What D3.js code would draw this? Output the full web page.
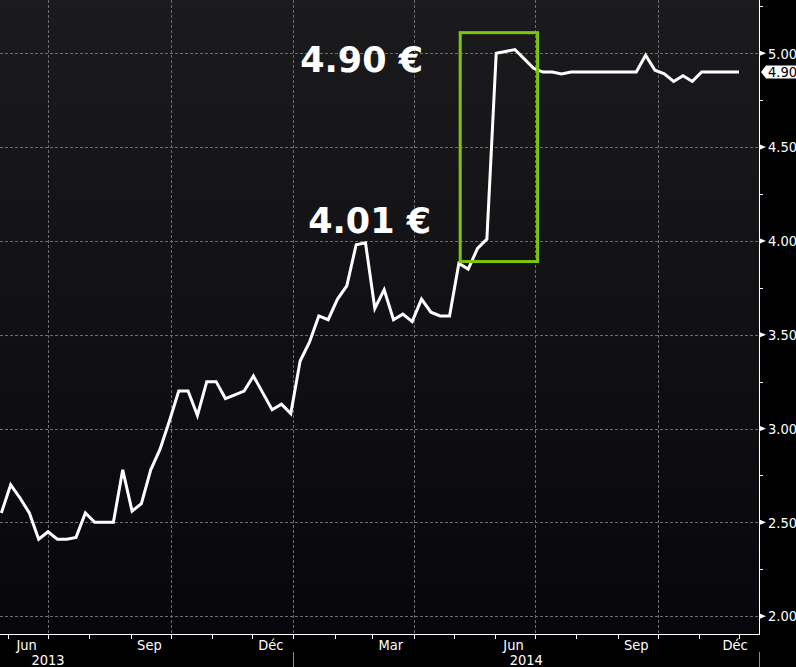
<!DOCTYPE html>
<html>
<head>
<meta charset="utf-8">
<script src="https://cdn.jsdelivr.net/npm/d3@7"></script>
<style>
  html, body { margin: 0; padding: 0; background: #000; }
  svg { display: block; }
</style>
</head>
<body>
<div id="chart"></div>
<script>
// weekly closes, May 2013 - Dec 2014
const dates = [
  "2013-05-27", "2013-06-03", "2013-06-10", "2013-06-17", "2013-06-24",
  "2013-07-01", "2013-07-08", "2013-07-15", "2013-07-22", "2013-07-29",
  "2013-08-05", "2013-08-12", "2013-08-19", "2013-08-26", "2013-09-02",
  "2013-09-09", "2013-09-16", "2013-09-23", "2013-09-30", "2013-10-07",
  "2013-10-14", "2013-10-21", "2013-10-28", "2013-11-04", "2013-11-11",
  "2013-11-18", "2013-11-25", "2013-12-02", "2013-12-09", "2013-12-16",
  "2013-12-23", "2013-12-30", "2014-01-06", "2014-01-13", "2014-01-20",
  "2014-01-27", "2014-02-03", "2014-02-10", "2014-02-17", "2014-02-24",
  "2014-03-03", "2014-03-10", "2014-03-17", "2014-03-24", "2014-03-31",
  "2014-04-07", "2014-04-14", "2014-04-21", "2014-04-28", "2014-05-05",
  "2014-05-12", "2014-05-19", "2014-05-26", "2014-06-02", "2014-06-09",
  "2014-06-16", "2014-06-23", "2014-06-30", "2014-07-07", "2014-07-14",
  "2014-07-21", "2014-07-28", "2014-08-04", "2014-08-11", "2014-08-18",
  "2014-08-25", "2014-09-01", "2014-09-08", "2014-09-15", "2014-09-22",
  "2014-09-29", "2014-10-06", "2014-10-13", "2014-10-20", "2014-10-27",
  "2014-11-03", "2014-11-10", "2014-11-17", "2014-11-24", "2014-12-01"
];
const prices = [
  2.55, 2.70, 2.63, 2.55, 2.41,
  2.45, 2.41, 2.41, 2.42, 2.55,
  2.50, 2.50, 2.50, 2.78, 2.56,
  2.60, 2.78, 2.89, 3.04, 3.20,
  3.20, 3.07, 3.25, 3.25, 3.16,
  3.18, 3.20, 3.28, 3.19, 3.10,
  3.13, 3.08, 3.36, 3.46, 3.60,
  3.58, 3.69, 3.76, 3.98, 3.99,
  3.64, 3.74, 3.58, 3.61, 3.57,
  3.69, 3.62, 3.60, 3.60, 3.88,
  3.85, 3.96, 4.01, 5.00, 5.01,
  5.02, 4.97, 4.92, 4.90, 4.90,
  4.89, 4.90, 4.90, 4.90, 4.90,
  4.90, 4.90, 4.90, 4.90, 4.99,
  4.91, 4.89, 4.85, 4.88, 4.85,
  4.90, 4.90, 4.90, 4.90, 4.90
];

const yTicks = [2.00, 2.50, 3.00, 3.50, 4.00, 4.50, 5.00];
const yMinor = [2.25, 2.75, 3.25, 3.75, 4.25, 4.75, 5.25];
const monthLabelDates = ["2013-06-15", "2013-09-15", "2013-12-15", "2014-03-15", "2014-06-15", "2014-09-15", "2014-12-15"];
const monthLabels = ["Jun", "Sep", "Déc", "Mar", "Jun", "Sep", "Déc"];
const years = [2013, 2014];
const callouts = [
  { text: "4.90 €", date: "2014-01-06", value: 4.90 },
  { text: "4.01 €", date: "2014-01-12", value: 4.04 }
];
const highlight = { from: "2014-05-06", to: "2014-07-03", low: 3.89, high: 5.11 };
const lastValue = 4.90;

const W = 796, H = 667;
const plotW = 759, plotH = 634;
const parse = d3.utcParse("%Y-%m-%d");
const series = dates.map((d, i) => ({ date: parse(d), value: prices[i] }));

const x = d3.scaleUtc()
  .domain([parse("2013-05-26"), parse("2014-12-16")])
  .range([0, plotW]);
const y = d3.scaleLinear()
  .domain([1.905, 5.284])
  .range([plotH, 0]);

const svg = d3.select("#chart").append("svg")
  .attr("width", W)
  .attr("height", H);

svg.append("rect").attr("width", W).attr("height", H).attr("fill", "#000");

const grad = svg.append("defs").append("linearGradient")
  .attr("id", "bg").attr("x1", 0).attr("y1", 0).attr("x2", 0).attr("y2", 1);
grad.append("stop").attr("offset", "0%").attr("stop-color", "#1b1b1e");
grad.append("stop").attr("offset", "100%").attr("stop-color", "#07070b");

svg.append("rect")
  .attr("width", plotW).attr("height", plotH)
  .attr("fill", "url(#bg)");

// dotted grid
const grid = svg.append("g")
  .attr("stroke", "#6c6c6c")
  .attr("stroke-width", 1)
  .attr("stroke-dasharray", "3,2");
grid.selectAll(".gy").data(yTicks).join("line")
  .attr("x1", 0).attr("x2", plotW)
  .attr("y1", d => Math.round(y(d)) + 0.5).attr("y2", d => Math.round(y(d)) + 0.5);
grid.selectAll(".gx").data(x.ticks(d3.utcMonth.every(3))).join("line")
  .attr("x1", d => Math.round(x(d)) + 0.5).attr("x2", d => Math.round(x(d)) + 0.5)
  .attr("y1", 0).attr("y2", plotH);

// price line
const line = d3.line().x(d => x(d.date)).y(d => y(d.value));
svg.append("path")
  .datum(series)
  .attr("fill", "none")
  .attr("stroke", "#fff")
  .attr("stroke-width", 3)
  .attr("d", line);

// highlight box
svg.append("rect")
  .attr("x", x(parse(highlight.from)))
  .attr("y", y(highlight.high))
  .attr("width", x(parse(highlight.to)) - x(parse(highlight.from)))
  .attr("height", y(highlight.low) - y(highlight.high))
  .attr("fill", "none")
  .attr("stroke", "#7cc70a")
  .attr("stroke-width", 3);

// callouts
svg.selectAll(".callout").data(callouts).join("text")
  .attr("x", d => x(parse(d.date)))
  .attr("y", d => y(d.value))
  .attr("fill", "#fff")
  .attr("font-family", "DejaVu Sans, Verdana, sans-serif")
  .attr("font-weight", "bold")
  .attr("font-size", 35)
  .text(d => d.text);

// axes
const axisFont = "Liberation Sans Narrow, DejaVu Sans Condensed, sans-serif";
svg.append("line")
  .attr("x1", plotW + 0.5).attr("x2", plotW + 0.5)
  .attr("y1", 0).attr("y2", plotH)
  .attr("stroke", "#fff");
svg.append("line")
  .attr("x1", 0).attr("x2", plotW + 1)
  .attr("y1", plotH + 0.5).attr("y2", plotH + 0.5)
  .attr("stroke", "#fff");

svg.selectAll(".ytri").data(yTicks).join("path")
  .attr("d", d => `M${plotW + 1},${y(d) - 2.5}L${plotW + 7},${y(d)}L${plotW + 1},${y(d) + 2.5}Z`)
  .attr("fill", "#fff");
svg.selectAll(".yminor").data(yMinor).join("line")
  .attr("x1", plotW).attr("x2", plotW + 4)
  .attr("y1", d => Math.round(y(d)) + 0.5).attr("y2", d => Math.round(y(d)) + 0.5)
  .attr("stroke", "#fff");
svg.selectAll(".ylab").data(yTicks).join("text")
  .attr("x", plotW + 9)
  .attr("y", d => y(d))
  .attr("dy", "0.36em")
  .attr("fill", "#fff")
  .attr("font-family", axisFont)
  .attr("font-size", 14.5)
  .text(d => d.toFixed(2));

// last value tag
const ly = y(lastValue);
svg.append("path")
  .attr("d", `M${plotW + 2},${ly}L${plotW + 7},${ly - 6.5}L${W},${ly - 6.5}L${W},${ly + 6.5}L${plotW + 7},${ly + 6.5}Z`)
  .attr("fill", "#fff");
svg.append("text")
  .attr("x", plotW + 9)
  .attr("y", ly)
  .attr("dy", "0.36em")
  .attr("fill", "#000")
  .attr("font-family", axisFont)
  .attr("font-size", 14.5)
  .text(lastValue.toFixed(2));

// month ticks and labels
svg.selectAll(".xtick").data(x.ticks(d3.utcMonth.every(1))).join("line")
  .attr("x1", d => Math.round(x(d)) + 0.5).attr("x2", d => Math.round(x(d)) + 0.5)
  .attr("y1", plotH).attr("y2", plotH + 5)
  .attr("stroke", "#fff");
svg.selectAll(".xlab").data(monthLabelDates).join("text")
  .attr("x", d => Math.min(x(parse(d)), plotW - 24))
  .attr("y", plotH + 16)
  .attr("text-anchor", "middle")
  .attr("fill", "#fff")
  .attr("font-family", axisFont)
  .attr("font-size", 14.5)
  .text((d, i) => monthLabels[i]);

// year row
const [d0, d1] = x.domain();
const yearInfo = years.map(yr => {
  const start = new Date(Date.UTC(yr, 0, 1));
  const end = new Date(Date.UTC(yr + 1, 0, 1));
  const mid = start >= d0
    ? new Date((+start + +d3.min([end, d1])) / 2)
    : new Date(Date.UTC(yr, 6, 1));
  return { yr, start, end, mid };
});
svg.selectAll(".ysep").data(yearInfo.map(d => d3.min([d.end, d1]))).join("line")
  .attr("x1", d => Math.round(x(d)) + 0.5).attr("x2", d => Math.round(x(d)) + 0.5)
  .attr("y1", plotH + 18).attr("y2", H)
  .attr("stroke", "#8a8a8a");
svg.selectAll(".yearlab").data(yearInfo).join("text")
  .attr("x", d => x(d.mid))
  .attr("y", plotH + 31)
  .attr("text-anchor", "middle")
  .attr("fill", "#fff")
  .attr("font-family", axisFont)
  .attr("font-size", 14.5)
  .text(d => d.yr);
</script>
</body>
</html>
